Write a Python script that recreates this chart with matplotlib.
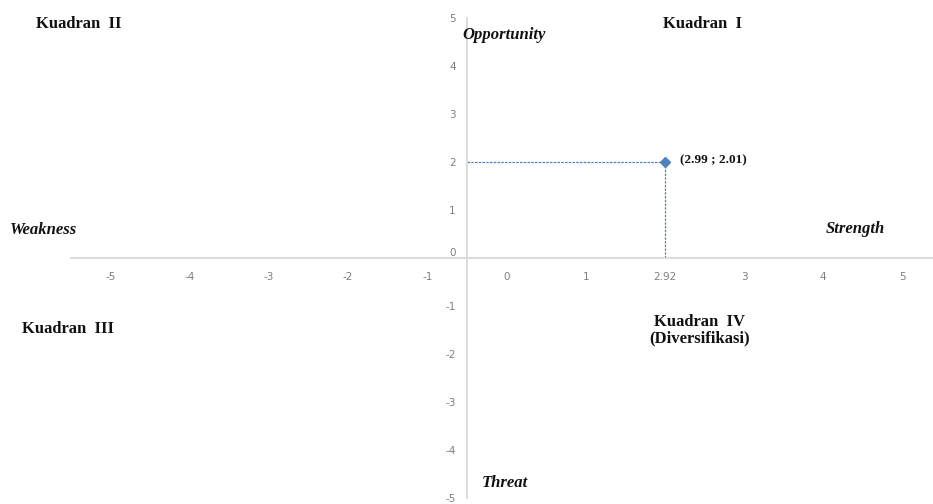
import matplotlib
matplotlib.use("Agg")
import matplotlib.pyplot as plt

# Data
x_labels = ["-5", "-4", "-3", "-2", "-1", "0", "1", "2.92", "3", "4", "5"]
y_ticks = [-5, -4, -3, -2, -1, 0, 1, 2, 3, 4, 5]
point_category = "2.92"
point_y = 2.01
point_text = "(2.99 ; 2.01)"
quadrant_labels = ["Kuadran  I", "Kuadran  II", "Kuadran  III", "Kuadran  IV\n(Diversifikasi)"]
axis_names = ["Opportunity", "Threat", "Weakness", "Strength"]

fig = plt.figure(figsize=(9.33, 5.04), dpi=100)
W, H = 933, 504
ax = fig.add_axes([71 / W, 6 / H, 871 / W, 480 / H])
ax.set_xlim(-0.5, len(x_labels) - 0.5)
ax.set_ylim(-5, 5)

grey = "#d9d9d9"
for s in ["top", "right"]:
    ax.spines[s].set_visible(False)
ax.spines["left"].set_position(("data", 4.5))
ax.spines["bottom"].set_position(("data", 0))
ax.spines["left"].set_color(grey)
ax.spines["bottom"].set_color(grey)
ax.spines["left"].set_linewidth(1.3)
ax.spines["bottom"].set_linewidth(1.3)

ax.set_xticks(range(len(x_labels)))
ax.set_xticklabels(x_labels)
ax.set_yticks(y_ticks)
ax.set_yticklabels([str(v) for v in y_ticks])
ax.tick_params(axis="both", length=0, labelsize=7.5, labelcolor="#7f7f7f")
ax.tick_params(axis="x", pad=10)
ax.tick_params(axis="y", pad=8)
for lab in ax.get_yticklabels():
    if lab.get_text() == "0":
        lab.set_verticalalignment("bottom")

px = x_labels.index(point_category)
blue = "#4f81bd"
ax.plot([4.5, px], [point_y, point_y], ls=(0, (2, 1)), color=blue, lw=0.9)
ax.plot([px, px], [0, point_y], ls=(0, (2, 1)), color=blue, lw=0.9)
ax.plot([px], [point_y], marker="D", ms=5.5, color=blue, zorder=5)
ax.annotate(point_text, (px, point_y), xytext=(11, 1), textcoords="offset points",
            ha="left", va="center", fontsize=9.5, fontweight="bold",
            family="Liberation Serif", color="#111111")

serif = "Liberation Serif"
def figtext(x, y, s, **kw):
    fig.text(x / W, 1 - y / H, s, family=serif, color="#111111", **kw)

figtext(36, 24, quadrant_labels[1], ha="left", va="center", fontsize=12, fontweight="bold")
figtext(663, 24, quadrant_labels[0], ha="left", va="center", fontsize=12, fontweight="bold")
figtext(22, 329, quadrant_labels[2], ha="left", va="center", fontsize=12, fontweight="bold")
figtext(700, 330, quadrant_labels[3], ha="center", va="center", fontsize=12,
        fontweight="bold", linespacing=1.05)

figtext(462, 35, axis_names[0], ha="left", va="center", fontsize=12, fontweight="bold", style="italic")
figtext(482, 483, axis_names[1], ha="left", va="center", fontsize=12, fontweight="bold", style="italic")
figtext(10, 230, axis_names[2], ha="left", va="center", fontsize=12, fontweight="bold", style="italic")
figtext(826, 229, axis_names[3], ha="left", va="center", fontsize=12, fontweight="bold", style="italic")

fig.savefig("out.png", dpi=100)
